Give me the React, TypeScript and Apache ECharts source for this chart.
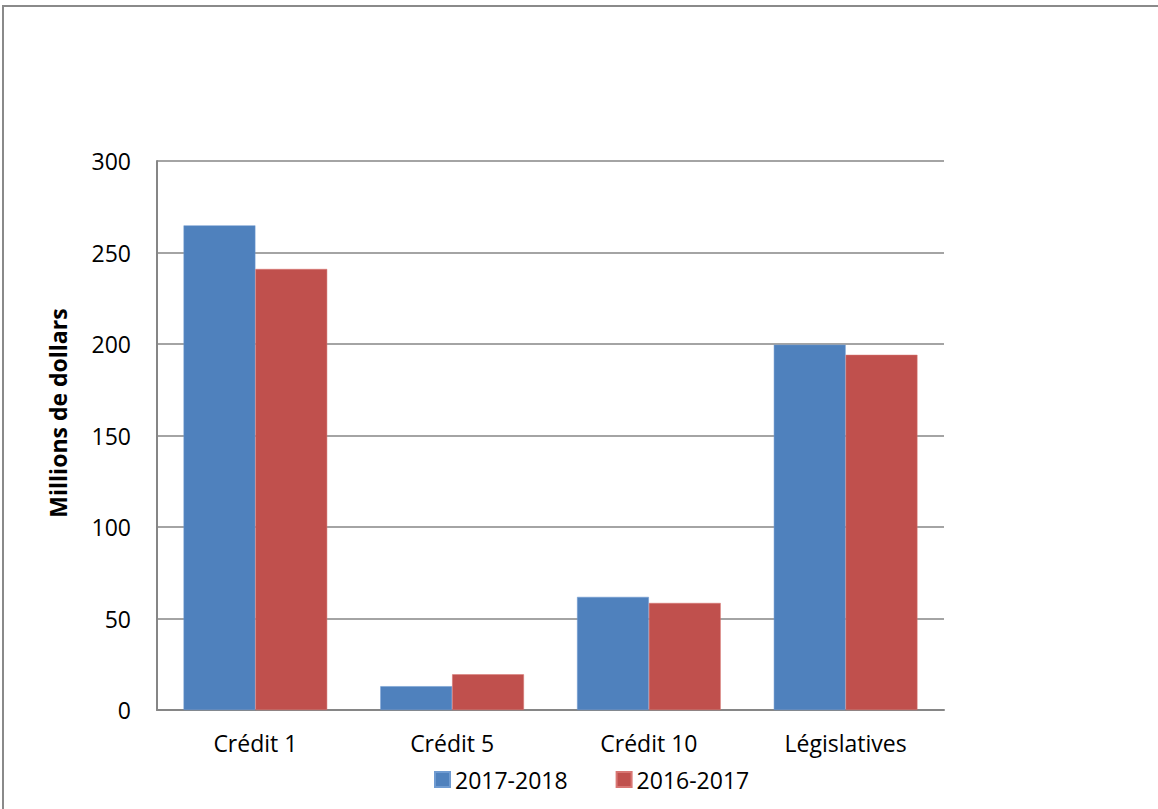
import React, { useEffect, useRef } from "react";
import * as echarts from "echarts";

const categories = ["Crédit 1", "Crédit 5", "Crédit 10", "Législatives"];
const series2017_2018 = [264.8, 13.0, 61.8, 199.6];
const series2016_2017 = [241.0, 19.5, 58.5, 194.1];
const seriesNames = ["2017-2018", "2016-2017"];
const yTicks = { min: 0, max: 300, interval: 50 };
const yTitle = "Millions de dollars";

const FONT = "'Open Sans', 'Liberation Sans', sans-serif";

export default function App() {
  const ref = useRef<HTMLDivElement>(null);
  useEffect(() => {
    if (!ref.current) return;
    const chart = echarts.init(ref.current, null, { renderer: "svg" });
    chart.setOption({
      animation: false,
      backgroundColor: "#ffffff",
      textStyle: { fontFamily: FONT },
      grid: { left: 157, right: 214, top: 161, bottom: 99, containLabel: false },
      graphic: [
        {
          type: "rect",
          shape: { x: 3, y: 6, width: 1200, height: 900 },
          style: { fill: "none", stroke: "#8a8a8a", lineWidth: 2 },
          silent: true,
        },
        {
          type: "text",
          x: 58,
          y: 413,
          rotation: Math.PI / 2,
          style: {
            text: yTitle,
            fill: "#000",
            font: `bold 23px ${FONT}`,
            align: "center",
            verticalAlign: "middle",
          },
        },
      ],
      legend: {
        left: 429,
        top: 763,
        itemWidth: 15,
        itemHeight: 15,
        itemGap: 48,
        icon: "rect",
        textStyle: { fontSize: 23, color: "#000", fontFamily: FONT },
        data: seriesNames,
      },
      xAxis: {
        type: "category",
        data: categories,
        axisLine: { show: true, lineStyle: { color: "#868686", width: 2 } },
        axisTick: { show: false },
        axisLabel: { fontSize: 23, color: "#000", margin: 21, fontFamily: FONT },
      },
      yAxis: {
        type: "value",
        min: yTicks.min,
        max: yTicks.max,
        interval: yTicks.interval,
        axisLine: { show: true, lineStyle: { color: "#868686", width: 2 } },
        axisTick: { show: false },
        splitLine: { show: true, lineStyle: { color: "#868686", width: 1.5 } },
        axisLabel: { fontSize: 23, color: "#000", margin: 26, fontFamily: FONT },
      },
      series: [
        {
          name: seriesNames[0],
          type: "bar",
          data: series2017_2018,
          itemStyle: { color: "#4F81BD", borderColor: "#6f9bd1", borderWidth: 0.5 },
          barGap: "0%",
          barCategoryGap: "27%",
        },
        {
          name: seriesNames[1],
          type: "bar",
          data: series2016_2017,
          itemStyle: { color: "#C0504D", borderColor: "#d87673", borderWidth: 0.5 },
          barGap: "0%",
          barCategoryGap: "27%",
        },
      ],
    });
    return () => chart.dispose();
  }, []);
  return (
    <div
      ref={ref}
      style={{ position: "fixed", left: 0, top: 0, width: 1158, height: 809 }}
    />
  );
}
